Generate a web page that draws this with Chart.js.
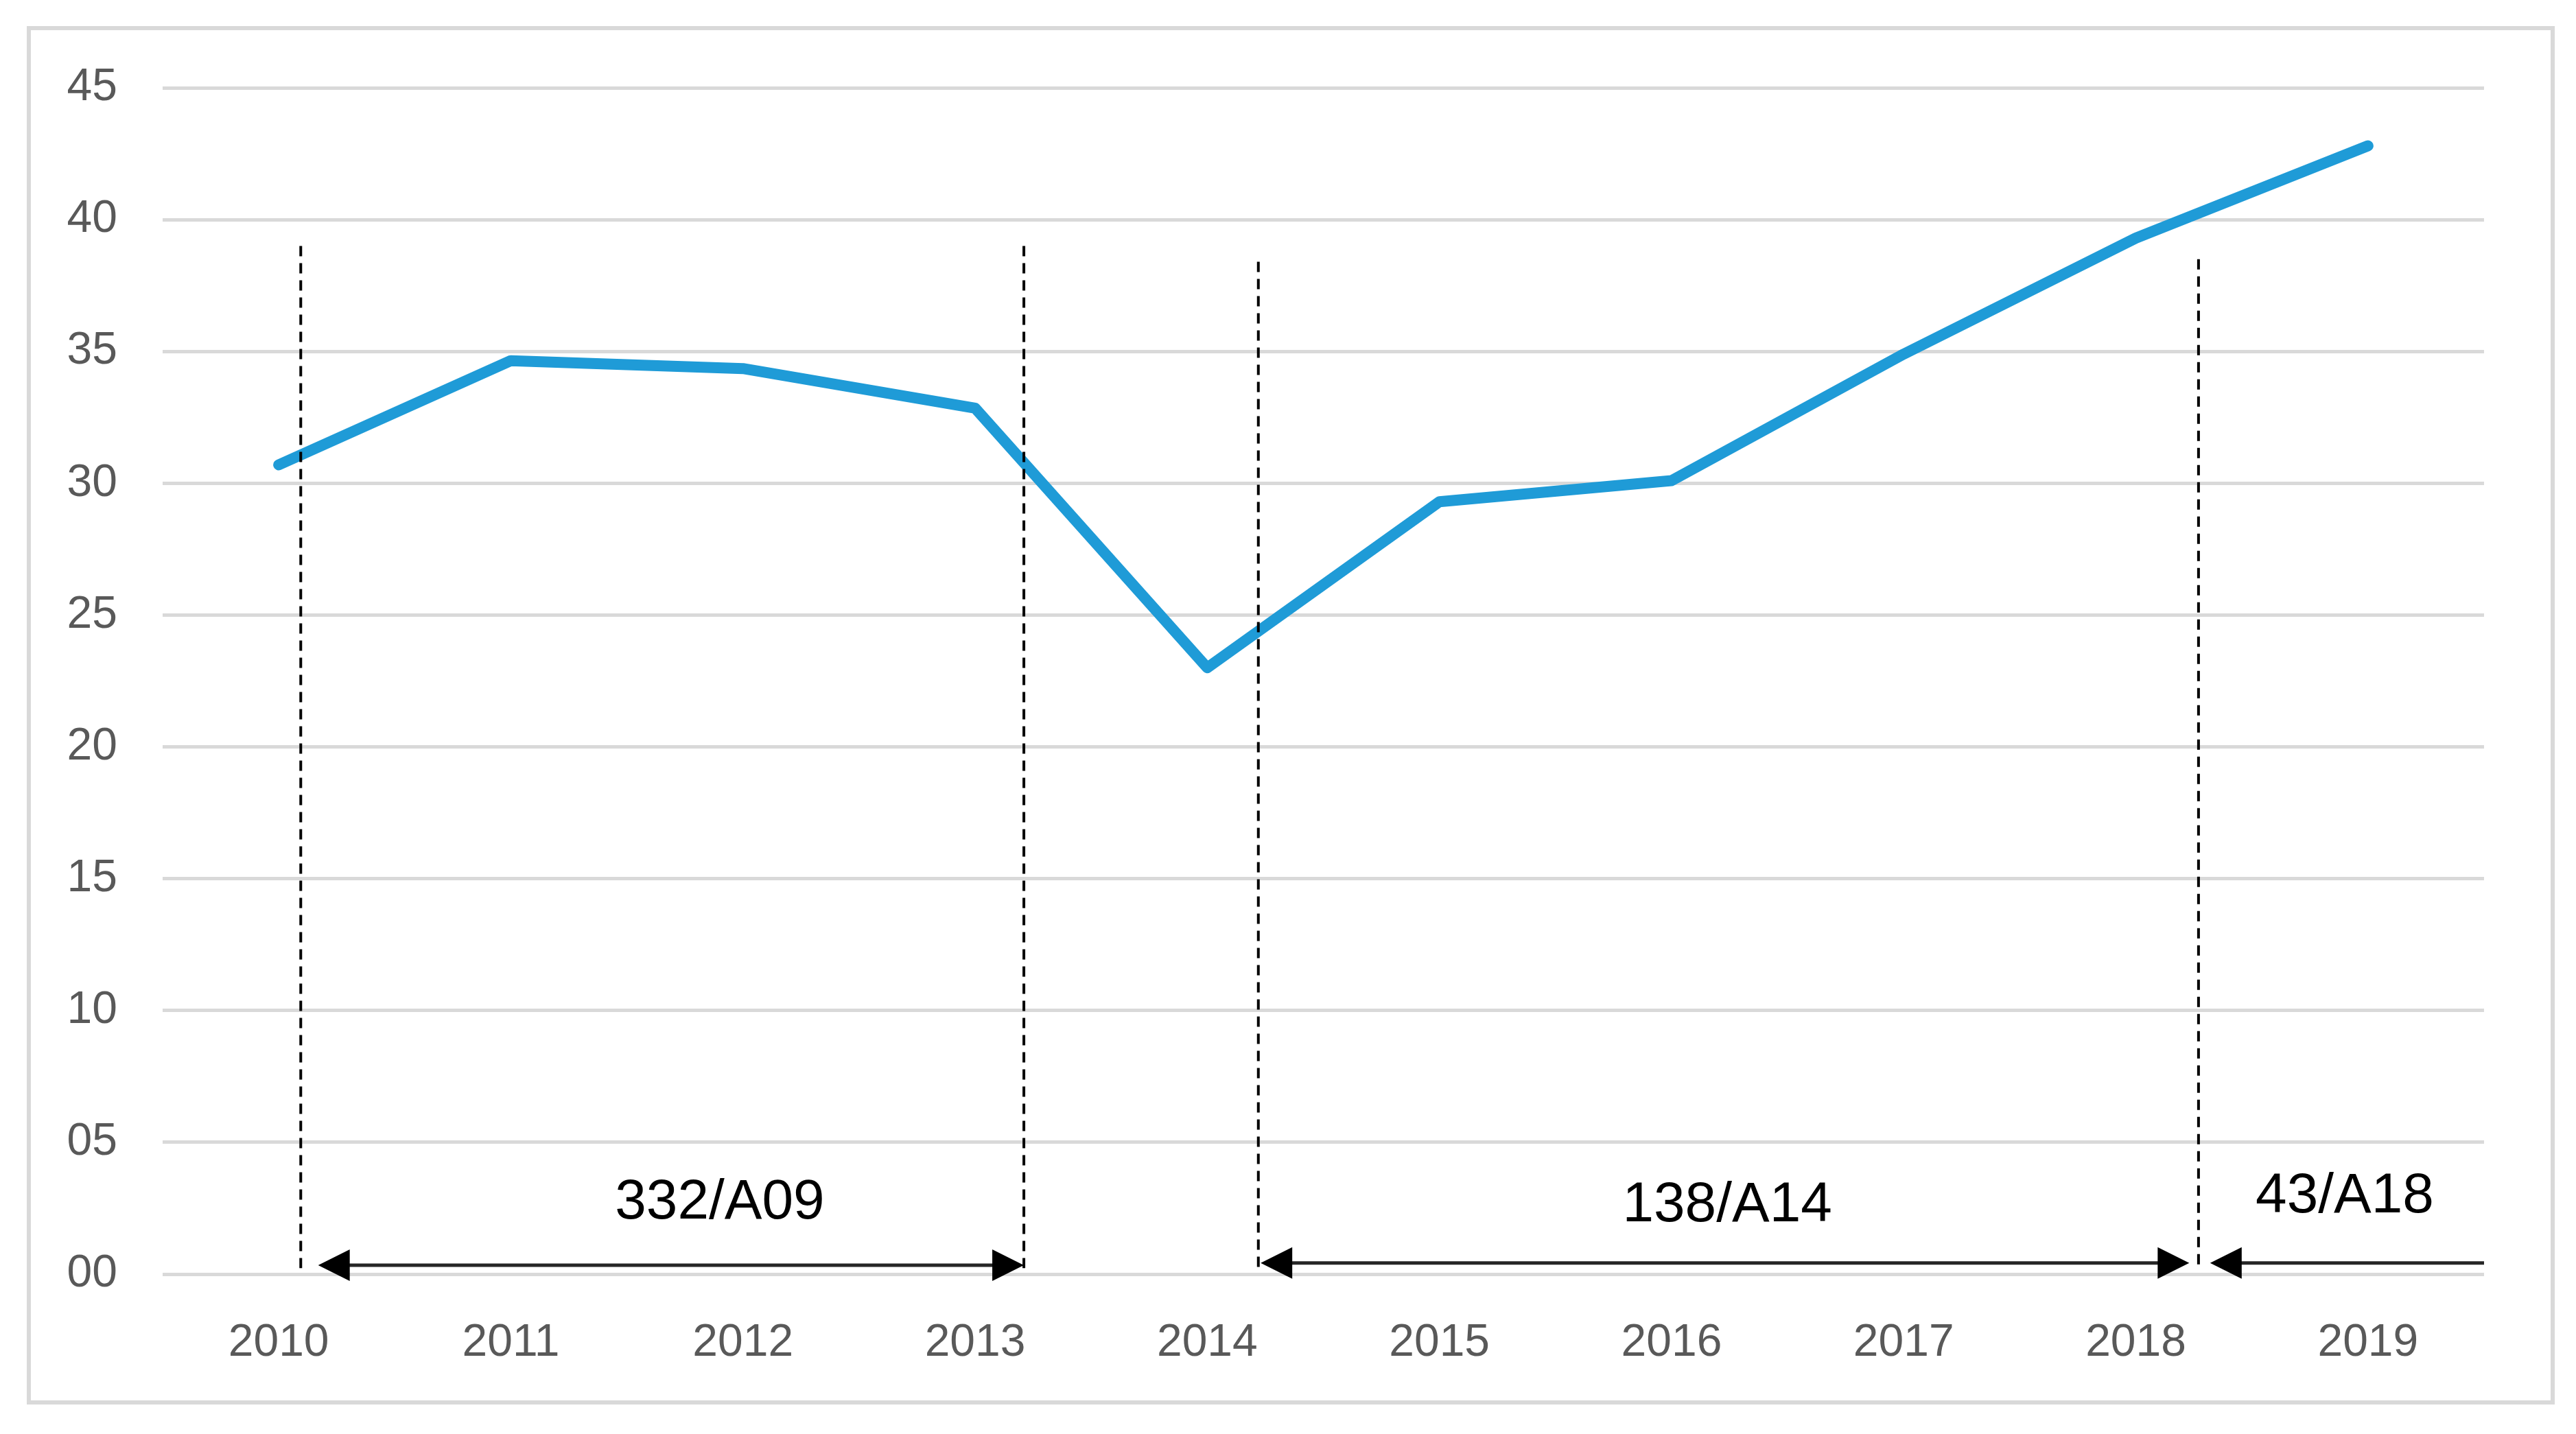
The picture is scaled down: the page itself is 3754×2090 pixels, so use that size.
<!DOCTYPE html>
<html>
<head>
<meta charset="utf-8">
<script src="https://cdn.jsdelivr.net/npm/chart.js@4.4.1/dist/chart.umd.min.js"></script>
<style>
    html, body { margin: 0; padding: 0; background: #ffffff; }
    #wrap { width: 3754px; height: 2090px; position: relative; }
</style>
</head>
<body>
<div id="wrap"><canvas id="chart"></canvas></div>
<script>
// Chart data
const years = ['2010', '2011', '2012', '2013', '2014', '2015', '2016', '2017', '2018', '2019'];
const values = [30.7, 34.65, 34.35, 32.85, 23.0, 29.3, 30.1, 34.9, 39.3, 42.8];
const yTickValues = [0, 5, 10, 15, 20, 25, 30, 35, 40, 45];
const yTickLabels = ['00', '05', '10', '15', '20', '25', '30', '35', '40', '45'];

// Period breaks (dashed lines), in category index / axis units
const breakX = [0.095, 3.21, 4.22, 8.27];
const breakTop = [39.0, 39.0, 38.4, 38.5];
const breakBottom = 0.23;

// Period arrows and their labels
const periodLabels = ['332/A09', '138/A14', '43/A18'];
const periodStart = [0.17, 4.23, 8.32];
const periodEnd = [3.21, 8.23, 9.5];
const periodArrowY = [0.34, 0.42, 0.42];
const periodHeads = [['start', 'end'], ['start', 'end'], ['start']];
const periodLabelX = [1.9, 6.24, 8.9];
const periodLabelY = [2.7, 2.58, 2.94];

const FONT = "'Liberation Sans', Arial, sans-serif";

// White background and light grey frame round the chart
const framePlugin = {
    id: 'frame',
    beforeDraw(chart) {
        const ctx = chart.ctx;
        ctx.save();
        ctx.fillStyle = '#ffffff';
        ctx.fillRect(0, 0, chart.width, chart.height);
        ctx.strokeStyle = '#d9d9d9';
        ctx.lineWidth = 6;
        ctx.strokeRect(42, 41, 3678, 2003);
        ctx.restore();
    }
};

// Dashed period breaks, arrows and labels
const periodPlugin = {
    id: 'periods',
    afterDatasetsDraw(chart) {
        const ctx = chart.ctx;
        const xs = chart.scales.x;
        const ys = chart.scales.y;
        ctx.save();

        // dashed lines
        ctx.strokeStyle = '#000000';
        ctx.lineWidth = 4;
        ctx.setLineDash([15, 10]);
        breakX.forEach((bx, i) => {
            const px = xs.getPixelForValue(bx);
            ctx.beginPath();
            ctx.moveTo(px, ys.getPixelForValue(breakTop[i]));
            ctx.lineTo(px, ys.getPixelForValue(breakBottom));
            ctx.stroke();
        });
        ctx.setLineDash([]);

        // arrows
        const headLen = 46;
        const headHalf = 23;
        periodLabels.forEach((label, i) => {
            const x1 = xs.getPixelForValue(periodStart[i]);
            const x2 = xs.getPixelForValue(periodEnd[i]);
            const y = ys.getPixelForValue(periodArrowY[i]);
            ctx.strokeStyle = '#262626';
            ctx.lineWidth = 5;
            ctx.beginPath();
            ctx.moveTo(x1 + headLen - 4, y);
            ctx.lineTo(periodHeads[i].includes('end') ? x2 - headLen + 4 : x2, y);
            ctx.stroke();

            ctx.fillStyle = '#000000';
            if (periodHeads[i].includes('start')) {
                ctx.beginPath();
                ctx.moveTo(x1, y);
                ctx.lineTo(x1 + headLen, y - headHalf);
                ctx.lineTo(x1 + headLen, y + headHalf);
                ctx.closePath();
                ctx.fill();
            }
            if (periodHeads[i].includes('end')) {
                ctx.beginPath();
                ctx.moveTo(x2, y);
                ctx.lineTo(x2 - headLen, y - headHalf);
                ctx.lineTo(x2 - headLen, y + headHalf);
                ctx.closePath();
                ctx.fill();
            }

            // label
            ctx.font = `82px ${FONT}`;
            ctx.textAlign = 'center';
            ctx.textBaseline = 'middle';
            ctx.fillText(label, xs.getPixelForValue(periodLabelX[i]), ys.getPixelForValue(periodLabelY[i]));
        });

        ctx.restore();
    }
};

const ctx = document.getElementById('chart').getContext('2d');

new Chart(ctx, {
    type: 'line',
    data: {
        labels: years,
        datasets: [{
            data: values,
            borderColor: '#1f9bd7',
            borderWidth: 16,
            borderCapStyle: 'round',
            borderJoinStyle: 'round',
            pointRadius: 0,
            tension: 0,
            fill: false
        }]
    },
    options: {
        responsive: true,
        maintainAspectRatio: false,
        animation: false,
        devicePixelRatio: 1,
        layout: {
            padding: { left: 0, top: 128, right: 134, bottom: 0 }
        },
        plugins: {
            legend: { display: false },
            tooltip: { enabled: false }
        },
        scales: {
            x: {
                type: 'category',
                offset: true,
                grid: { display: false, drawTicks: false },
                border: { display: false },
                ticks: {
                    color: '#595959',
                    font: { family: FONT, size: 66 },
                    padding: 61,
                    maxRotation: 0,
                    autoSkip: false
                },
                afterFit(scale) { scale.height = 233; }
            },
            y: {
                min: 0,
                max: 45,
                afterBuildTicks(scale) {
                    scale.ticks = yTickValues.map(v => ({ value: v }));
                },
                grid: {
                    color: '#d9d9d9',
                    lineWidth: 5,
                    drawTicks: false
                },
                border: { display: false },
                ticks: {
                    color: '#595959',
                    font: { family: FONT, size: 66 },
                    padding: 66,
                    callback: (value) => yTickLabels[yTickValues.indexOf(value)]
                },
                afterFit(scale) { scale.width = 237; }
            }
        }
    },
    plugins: [framePlugin, periodPlugin]
});
</script>
</body>
</html>
